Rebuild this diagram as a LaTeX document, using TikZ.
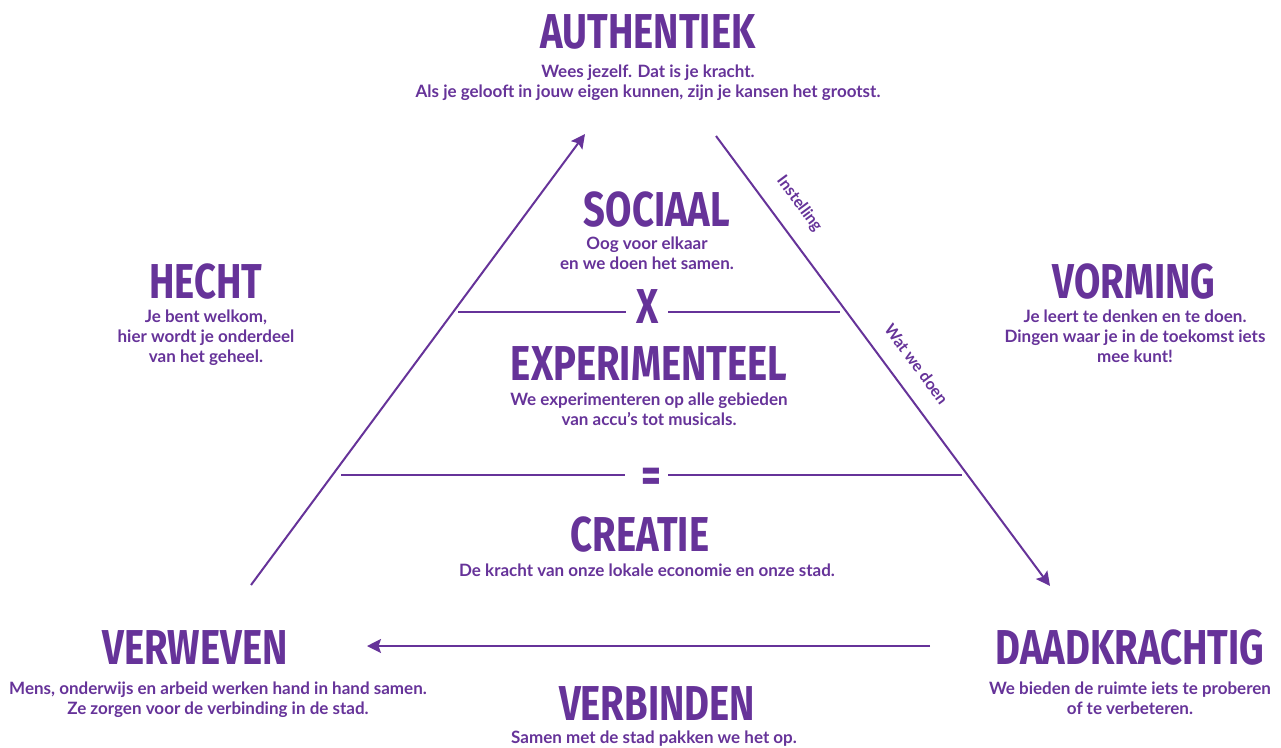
\documentclass[tikz,border=0pt]{standalone}
\usepackage{fontspec}
\setmainfont{Lato}
\newfontfamily\headfont{Fira Sans}[FakeStretch=0.78]
\usetikzlibrary{arrows.meta}
\usetikzlibrary{positioning}
\definecolor{paars}{RGB}{102,51,153}
\tikzset{
    kop/.style={
        text=paars,
        font=\headfont\bfseries\fontsize{49}{49}\selectfont,
        inner sep=0,
        anchor=base,
    },
    uitleg/.style={
        text=paars,
        font=\bfseries\fontsize{17}{20}\selectfont,
        align=center,
        inner sep=0,
        anchor=base,
    },
    randtekst/.style={
        text=paars,
        font=\bfseries\fontsize{16}{16}\selectfont,
        inner sep=0,
        sloped,
        above=18pt,
    },
    pijl/.style={
        draw=paars,
        line width=2pt,
        -{Stealth[length=14pt,width=14pt,inset=2.5pt]},
    },
    streep/.style={
        draw=paars,
        line width=2pt,
    },
}

\begin{document}
\begin{tikzpicture}[x=1pt,y=-1pt]
    \useasboundingbox (0,0) rectangle (1281,747);

    % hoeken (bij meerdere regels: y = basislijn van de laatste regel)
    \node[kop] (authentiek) at (648,48) {AUTHENTIEK};
    \node[uitleg] (authentiektekst) at (648,97) {Wees jezelf. Dat is je kracht.\\Als je gelooft in jouw eigen kunnen, zijn je kansen het grootst.};

    \node[kop] (verweven) at (195,664) {VERWEVEN};
    \node[uitleg] (verweventekst) at (218,714) {Mens, onderwijs en arbeid werken hand in hand samen.\\Ze zorgen voor de verbinding in de stad.};

    \node[kop] (daadkrachtig) at (1130,664) {DAADKRACHTIG};
    \node[uitleg] (daadkrachtigtekst) at (1130,714) {We bieden de ruimte iets te proberen\\of te verbeteren.};

    % zijden
    \node[kop] (hecht) at (206,298) {HECHT};
    \node[uitleg] (hechttekst) at (206,362) {Je bent welkom,\\hier wordt je onderdeel\\van het geheel.};

    \node[kop] (vorming) at (1134,298) {VORMING};
    \node[uitleg] (vormingtekst) at (1135,362) {Je leert te denken en te doen.\\Dingen waar je in de toekomst iets\\mee kunt!};

    \node[kop] (verbinden) at (657,720) {VERBINDEN};
    \node[uitleg] (verbindentekst) at (654,743) {Samen met de stad pakken we het op.};

    % binnenin
    \node[kop] (sociaal) at (657,226) {SOCIAAL};
    \node[uitleg] (sociaaltekst) at (647,269) {Oog voor elkaar\\en we doen het samen.};

    \node[kop] (maal) at (648,323) {X};

    \node[kop] (experimenteel) at (649,380) {EXPERIMENTEEL};
    \node[uitleg] (experimenteeltekst) at (649,425) {We experimenteren op alle gebieden\\van accu’s tot musicals.};

    \node[kop] (is) at (651,492) {=};

    \node[kop] (creatie) at (640,551) {CREATIE};
    \node[uitleg] (creatietekst) at (647,576) {De kracht van onze lokale economie en onze stad.};

    % pijlen
    \coordinate (linksonder) at (251,585);
    \coordinate (top) at (585,134);
    \coordinate (rechtsboven) at (716,136);
    \coordinate (rechtsonder) at (1050,586);
    \coordinate (onderrechts) at (930,646);
    \coordinate (onderlinks) at (367,646);

    \draw[pijl] (linksonder) -- (top);
    \draw[pijl] (rechtsboven) --
        node[randtekst, pos=0.186] (instelling) {Instelling}
        node[randtekst, pos=0.54] (watwedoen) {Wat we doen}
        (rechtsonder);
    \draw[pijl] (onderrechts) -- (onderlinks);

    % strepen
    \coordinate (s1a) at (458,312);
    \coordinate (s1b) at (626,312);
    \coordinate (s1c) at (668,312);
    \coordinate (s1d) at (840,312);
    \coordinate (s2a) at (341,475);
    \coordinate (s2b) at (625,475);
    \coordinate (s2c) at (668,475);
    \coordinate (s2d) at (962,475);

    \draw[streep] (s1a) -- (s1b);
    \draw[streep] (s1c) -- (s1d);
    \draw[streep] (s2a) -- (s2b);
    \draw[streep] (s2c) -- (s2d);

\end{tikzpicture}
\end{document}
